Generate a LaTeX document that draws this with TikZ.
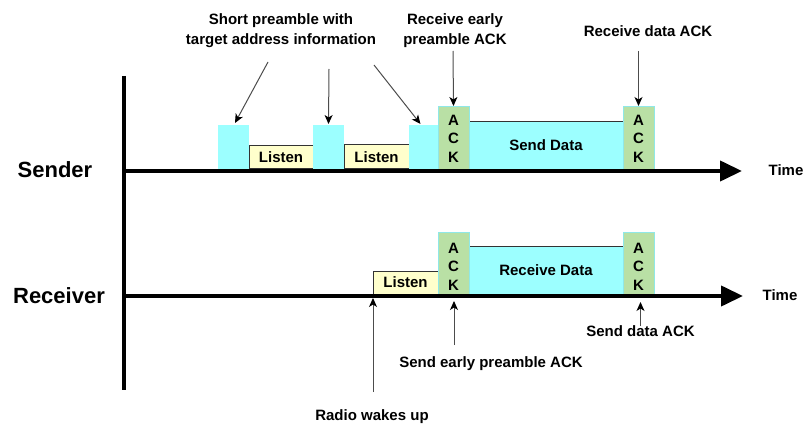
\documentclass[tikz,border=0pt]{standalone}
\usepackage{fontspec}
\setmainfont{Liberation Sans}
\usetikzlibrary{arrows.meta,calc}
\definecolor{pream}{HTML}{9CFFFF}
\definecolor{ackg}{HTML}{B9E0A5}
\definecolor{listeny}{HTML}{FFFFCC}
\definecolor{ackedge}{HTML}{8FE8E8}
\definecolor{edgegray}{HTML}{333333}
\begin{document}
\begin{tikzpicture}[x=1pt,y=-1pt,
  every node/.style={font=\bfseries\fontsize{15}{19}\selectfont,inner sep=0pt,outer sep=0pt},
  preamble/.style={fill=pream,draw=none,anchor=south west},
  listenbox/.style={fill=listeny,draw=edgegray,line width=1pt,anchor=south west},
  ackbox/.style={fill=ackg,draw=ackedge,line width=0.8pt,anchor=south west,
                 minimum width=31pt},
  acktext/.style={align=center,font=\bfseries\fontsize{15}{18.5}\selectfont},
  databox/.style={fill=pream,draw=none,anchor=south west},
  rowlabel/.style={font=\bfseries\fontsize{22}{26}\selectfont},
  note/.style={align=center,font=\bfseries\fontsize{15}{20}\selectfont},
  axis/.style={line width=4pt,-{Triangle[length=22pt,width=20pt]}},
  pointer/.style={line width=1pt,draw=black!70,
                  -{Stealth[length=9pt,width=8pt,inset=2.5pt,color=black]}}]

\useasboundingbox (0,0) rectangle (804,425);

% ---------------- sender row ----------------
\node[preamble,minimum width=31pt,minimum height=44pt] (p1) at (218,169) {};
\node[listenbox,minimum width=64pt,minimum height=23pt] (l1) at (249,169) {Listen};
\node[preamble,minimum width=31pt,minimum height=44pt] (p2) at (313,169) {};
\node[listenbox,minimum width=65pt,minimum height=24pt] (l2) at (344,169) {Listen};
\node[preamble,minimum width=29pt,minimum height=44pt] (p3) at (409,169) {};
\node[databox,minimum width=154pt,minimum height=47pt] (sd) at (469,169) {Send Data};
\draw[edgegray,line width=1pt] (sd.north west) -- (sd.north east);
\node[ackbox,minimum height=63pt] (a1) at (438,169) {};
\node[acktext] (a1t) at ($(a1.center)+(0,1)$) {A\\C\\K};
\node[ackbox,minimum height=63pt] (a2) at (623,169) {};
\node[acktext] (a2t) at ($(a2.center)+(0,1)$) {A\\C\\K};

% ---------------- receiver row ----------------
\node[listenbox,minimum width=65pt,minimum height=23pt] (rl) at (373,294) {Listen};
\node[databox,minimum width=154pt,minimum height=48pt] (rd) at (469,294) {Receive Data};
\draw[edgegray,line width=1pt] (rd.north west) -- (rd.north east);
\node[ackbox,minimum height=62pt] (ra1) at (438,294) {};
\node[acktext] (ra1t) at ($(ra1.center)+(0,3.5)$) {A\\C\\K};
\node[ackbox,minimum height=62pt] (ra2) at (623,294) {};
\node[acktext] (ra2t) at ($(ra2.center)+(0,3.5)$) {A\\C\\K};

% ---------------- axes ----------------
\coordinate (top) at (124,76);
\coordinate (bottom) at (124,390);
\coordinate (send0) at (124,171);
\coordinate (send1) at (742,171);
\coordinate (recv0) at (124,296);
\coordinate (recv1) at (743,296);
\draw[line width=4pt] (top) -- (bottom);
\draw[axis] (send0) -- (send1);
\draw[axis] (recv0) -- (recv1);

\node[rowlabel] (sender) at (55,170) {Sender};
\node[rowlabel] (receiver) at (59,296) {Receiver};
\node (tsend) at (786,170) {Time};
\node (trecv) at (780,295) {Time};

% ---------------- annotations ----------------
\node[note] (shortpre) at (281,31) {Short preamble with\\target address information};
\node[note] (rxearly) at (455,31) {Receive early\\preamble ACK};
\node[note] (rxdata) at (648,31.5) {Receive data ACK};
\node[note] (txdata) at (640.5,331.5) {Send data ACK};
\node[note] (txearly) at (491,364) {Send early preamble ACK};
\node[note] (wake) at (372,416.5) {Radio wakes up};

\coordinate (s1) at (268,62);
\coordinate (s2) at (329,69);
\coordinate (s3) at (374,65);
\coordinate (s4) at (453,51);
\coordinate (s5) at (638.5,51);
\coordinate (u1) at (373,392);
\coordinate (u2) at (454,345);
\coordinate (u3) at (640.5,326);

\draw[pointer] (s1) -- ($(p1.north)+(1.5,-2)$);
\draw[pointer] (s2) -- ($(p2.north)+(0,-1)$);
\draw[pointer] (s3) -- ($(p3.north)+(-3,-1)$);
\draw[pointer] (s4) -- (a1.north);
\draw[pointer] (s5) -- (a2.north);
\draw[pointer] (u1) -- ($(rl.south west)+(0,4)$);
\draw[pointer] (u2) -- ($(ra1.south)+(0.5,7)$);
\draw[pointer] (u3) -- ($(ra2.south)+(2,8)$);
\end{tikzpicture}
\end{document}
